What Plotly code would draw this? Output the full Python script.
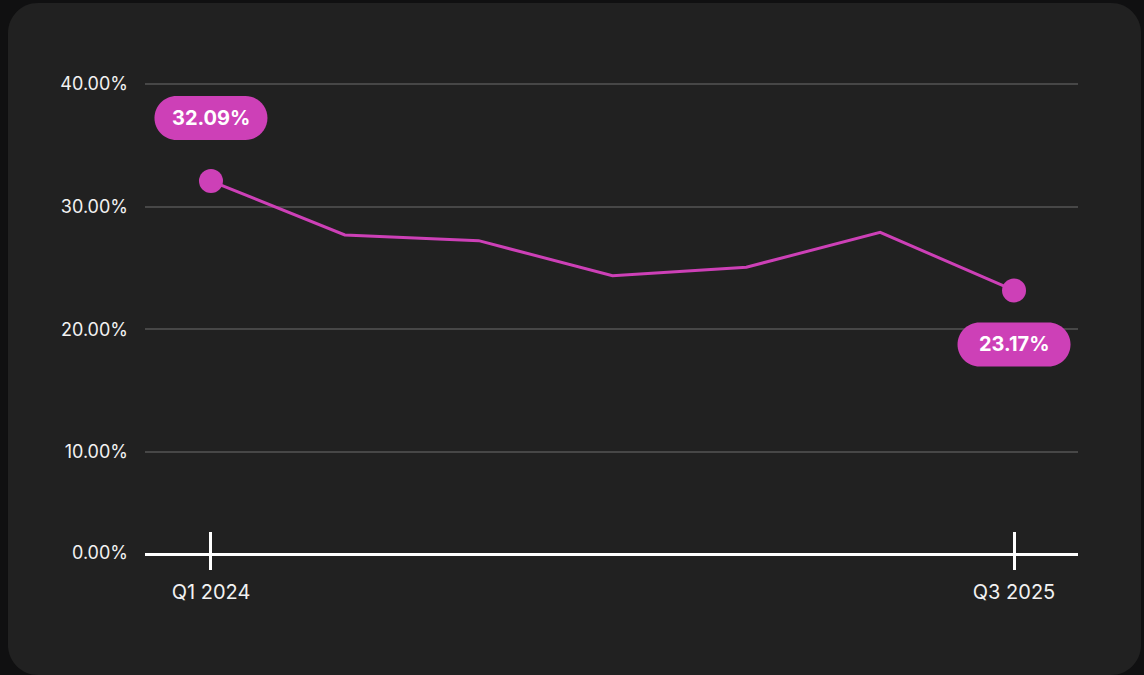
import plotly.graph_objects as go

# ---- data ----
QUARTERS = ["Q1 2024", "Q2 2024", "Q3 2024", "Q4 2024", "Q1 2025", "Q2 2025", "Q3 2025"]
RATE = [32.09, 27.69, 27.23, 24.37, 25.06, 27.91, 23.17]
Y_TICKS = [0, 10, 20, 30, 40]
X_TICK_LABELS = ["Q1 2024", "Q3 2025"]

# ---- style ----
W, H = 1144, 675
MAG = "#CD40B7"
FONT = "Inter"
ML, MR, MT, MB = 145, 66, 35, 122
PW, PH = W - ML - MR, H - MT - MB
Y_FLOOR = 1.767          # value where the baseline sits in the picture
Y_TOP = 43.994

x_idx = list(range(len(QUARTERS)))

fig = go.Figure()
fig.add_trace(go.Scatter(
    x=x_idx, y=RATE, mode="lines",
    line=dict(color=MAG, width=3), hoverinfo="skip", cliponaxis=False,
))
ends = [0, len(QUARTERS) - 1]
fig.add_trace(go.Scatter(
    x=[x_idx[i] for i in ends], y=[RATE[i] for i in ends], mode="markers",
    marker=dict(color=MAG, size=24, line=dict(width=0)), hoverinfo="skip", cliponaxis=False,
))

# card background (pixel coords -> paper coords)
def px2paper(px, py):
    return (px - ML) / PW, (H - MB - py) / PH

def rounded_rect_path(x0, y0, x1, y1, r):
    k = 0.5523 * r
    def P(x, y):
        a, b = px2paper(x, y)
        return f"{a:.5f},{b:.5f}"
    d = (f"M{P(x0 + r, y0)} L{P(x1 - r, y0)} "
         f"C{P(x1 - r + k, y0)} {P(x1, y0 + r - k)} {P(x1, y0 + r)} "
         f"L{P(x1, y1 - r)} "
         f"C{P(x1, y1 - r + k)} {P(x1 - r + k, y1)} {P(x1 - r, y1)} "
         f"L{P(x0 + r, y1)} "
         f"C{P(x0 + r - k, y1)} {P(x0, y1 - r + k)} {P(x0, y1 - r)} "
         f"L{P(x0, y0 + r)} "
         f"C{P(x0, y0 + r - k)} {P(x0 + r - k, y0)} {P(x0 + r, y0)} Z")
    return d

fig.add_shape(type="path", xref="paper", yref="paper", layer="below",
              path=rounded_rect_path(8, 3, 1141, 675, 30),
              fillcolor="#212121", line=dict(width=0))

# pill labels in pixel units around the data points
def pill_path(cy, w=113, h=44):
    r = h / 2
    k = 0.5523 * r
    xl, xr = -w / 2 + r, w / 2 - r
    yt, yb = cy + r, cy - r
    return (f"M{xl},{yt} L{xr},{yt} "
            f"C{xr + k},{yt} {w/2},{cy + k} {w/2},{cy} "
            f"C{w/2},{cy - k} {xr + k},{yb} {xr},{yb} "
            f"L{xl},{yb} "
            f"C{xl - k},{yb} {-w/2},{cy - k} {-w/2},{cy} "
            f"C{-w/2},{cy + k} {xl - k},{yt} {xl},{yt} Z")

offsets = [63, -54]
for i, off in zip(ends, offsets):
    fig.add_shape(type="path", xref="x", yref="y",
                  xsizemode="pixel", ysizemode="pixel",
                  xanchor=x_idx[i], yanchor=RATE[i],
                  path=pill_path(off), fillcolor=MAG, line=dict(width=0))
    fig.add_annotation(x=x_idx[i], y=RATE[i], yshift=off, text=f"{RATE[i]:.2f}%",
                       showarrow=False, font=dict(family=FONT, size=20, color="white", weight=700))

y_vals = [Y_FLOOR if v == 0 else v for v in Y_TICKS]
fig.update_layout(
    width=W, height=H,
    margin=dict(l=ML, r=MR, t=MT, b=MB),
    paper_bgcolor="#101011", plot_bgcolor="rgba(0,0,0,0)",
    showlegend=False,
    font=dict(family=FONT, color="#f2f2f2", size=18),
    xaxis=dict(
        range=[-0.493, 6.478], showgrid=False, zeroline=False,
        tickmode="array",
        tickvals=[QUARTERS.index(q) for q in X_TICK_LABELS], ticktext=X_TICK_LABELS,
        ticks="outside", ticklen=14, tickwidth=3, tickcolor="white",
        minor=dict(tickmode="array", tickvals=[QUARTERS.index(q) for q in X_TICK_LABELS],
                   ticks="inside", ticklen=21, tickwidth=3, tickcolor="white", showgrid=False),
        showline=True, linecolor="white", linewidth=3,
        tickfont=dict(family=FONT, size=20, color="#f2f2f2"),
        ticklabelstandoff=5,
    ),
    yaxis=dict(
        range=[Y_FLOOR, Y_TOP], tickmode="array", tickvals=y_vals,
        ticktext=[f"{v:.2f}%" for v in Y_TICKS],
        showgrid=True, gridcolor="#474747", gridwidth=2, zeroline=False,
        ticks="", ticklabelstandoff=16,
        tickfont=dict(family=FONT, size=18, color="#f2f2f2"),
    ),
)

fig.write_html("out.html", config={"displayModeBar": False},
               post_script="document.body.style.margin='0';document.body.style.background='#101011';")
